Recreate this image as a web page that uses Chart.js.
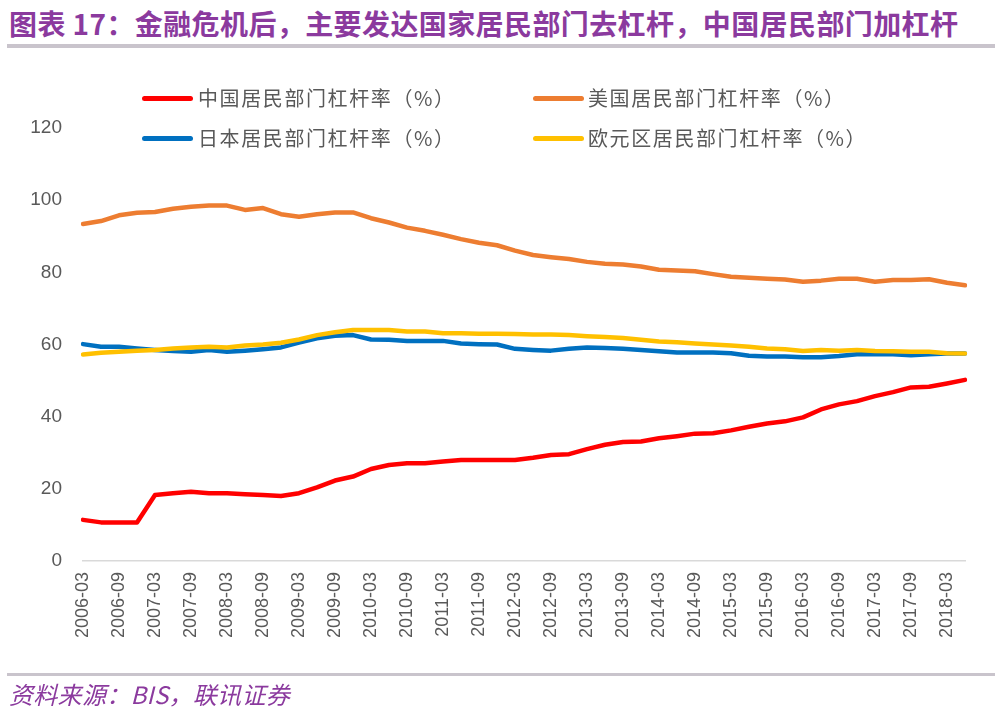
<!DOCTYPE html>
<html>
<head>
<meta charset="utf-8">
<script src="https://cdn.jsdelivr.net/npm/chart.js@4/dist/chart.umd.min.js"></script>
<style>
  html, body { margin: 0; padding: 0; background: #fff; }
  #wrap { position: relative; width: 1000px; height: 711px; overflow: hidden; background: #fff; }
  #c { position: absolute; left: 0; top: 0; }
  .title { position: absolute; left: 9px; top: 8px; font: bold 28px "Noto Sans CJK SC", "Liberation Sans", sans-serif; color: #8B3A9E; line-height: 30px; letter-spacing: 0.4px; white-space: nowrap; }
  .rule { position: absolute; left: 7px; width: 988px; background: #C9C4CC; }
  .source { position: absolute; left: 9px; top: 680px; font: italic 24px "Noto Sans CJK SC", "Liberation Sans", sans-serif; color: #8B3A9E; line-height: 28px; letter-spacing: 0.3px; white-space: nowrap; }
  .lg-line { position: absolute; height: 5px; border-radius: 3px; }
  .lg-text { position: absolute; font: 20px "Noto Sans CJK SC", sans-serif; color: #595959; letter-spacing: 1.6px; line-height: 24px; white-space: nowrap; }
</style>
</head>
<body>
<div id="wrap">
  <div class="title">图表 17：金融危机后，主要发达国家居民部门去杠杆，中国居民部门加杠杆</div>
  <div class="rule" style="top:44px;height:4px;"></div>
  <canvas id="c" width="1000" height="711"></canvas>
  <div id="legend"></div>
  <div class="rule" style="top:673px;height:3px;"></div>
  <div class="source">资料来源：BIS，联讯证券</div>
</div>
<script>
const categories = [
  "2006-03","2006-06","2006-09","2006-12",
  "2007-03","2007-06","2007-09","2007-12",
  "2008-03","2008-06","2008-09","2008-12",
  "2009-03","2009-06","2009-09","2009-12",
  "2010-03","2010-06","2010-09","2010-12",
  "2011-03","2011-06","2011-09","2011-12",
  "2012-03","2012-06","2012-09","2012-12",
  "2013-03","2013-06","2013-09","2013-12",
  "2014-03","2014-06","2014-09","2014-12",
  "2015-03","2015-06","2015-09","2015-12",
  "2016-03","2016-06","2016-09","2016-12",
  "2017-03","2017-06","2017-09","2017-12",
  "2018-03","2018-06"
];
const china = [
  11.4,10.7,10.7,10.7, 18.3,18.8,19.2,18.8, 18.8,18.5,18.3,18.0, 18.8,20.4,22.3,23.4,
  25.5,26.6,27.1,27.1, 27.6,28.0,28.0,28.0, 28.0,28.6,29.4,29.6, 31.0,32.2,33.0,33.1,
  34.0,34.6,35.3,35.4, 36.2,37.2,38.1,38.7, 39.8,42.0,43.4,44.3, 45.7,46.8,48.1,48.3,
  49.2,50.2
];
const usa = [
  93.4,94.2,95.8,96.5, 96.7,97.6,98.2,98.5, 98.5,97.3,97.8,96.1, 95.4,96.1,96.6,96.6,
  95.0,93.8,92.4,91.5, 90.4,89.2,88.2,87.5, 86.0,84.8,84.2,83.7, 82.9,82.4,82.2,81.6,
  80.7,80.5,80.3,79.5, 78.8,78.5,78.2,78.0, 77.4,77.7,78.2,78.2, 77.4,77.9,77.9,78.1,
  77.1,76.4
];
const japan = [
  60.1,59.4,59.4,58.9, 58.5,58.2,58.0,58.5, 58.0,58.3,58.7,59.2, 60.5,61.7,62.4,62.6,
  61.4,61.3,61.0,61.0, 61.0,60.3,60.1,60.0, 58.8,58.5,58.3,58.8, 59.2,59.0,58.8,58.5,
  58.1,57.8,57.8,57.8, 57.6,56.9,56.7,56.7, 56.5,56.5,56.8,57.3, 57.3,57.3,57.0,57.3,
  57.5,57.5
];
const euro = [
  57.2,57.7,58.0,58.3, 58.5,58.9,59.2,59.4, 59.2,59.7,60.0,60.5, 61.4,62.6,63.4,64.0,
  64.0,64.0,63.6,63.6, 63.1,63.1,63.0,63.0, 62.9,62.8,62.8,62.6, 62.3,62.1,61.8,61.3,
  60.8,60.6,60.3,60.0, 59.7,59.4,58.9,58.7, 58.2,58.5,58.3,58.5, 58.2,58.1,58.0,58.0,
  57.6,57.5
];
const yTicks = [0, 20, 40, 60, 80, 100, 120];
const seriesNames = ["中国居民部门杠杆率（%）", "美国居民部门杠杆率（%）", "日本居民部门杠杆率（%）", "欧元区居民部门杠杆率（%）"];
const seriesColors = ["#FF0000", "#ED7D31", "#0070C0", "#FFC000"];
const seriesData = [china, usa, japan, euro];

// HTML legend (2 columns x 2 rows)
const legendPos = [
  {lx: 142, tx: 198, y: 98},
  {lx: 533, tx: 588, y: 98},
  {lx: 142, tx: 198, y: 138},
  {lx: 533, tx: 588, y: 138}
];
const legend = document.getElementById('legend');
seriesNames.forEach((name, i) => {
  const p = legendPos[i];
  const ln = document.createElement('div');
  ln.className = 'lg-line';
  ln.style.left = p.lx + 'px';
  ln.style.width = '51px';
  ln.style.top = (p.y - 2.5) + 'px';
  ln.style.background = seriesColors[i];
  legend.appendChild(ln);
  const tx = document.createElement('div');
  tx.className = 'lg-text';
  tx.style.left = p.tx + 'px';
  tx.style.top = (p.y - 12) + 'px';
  tx.textContent = name;
  legend.appendChild(tx);
});

const datasets = seriesData.map((d, i) => ({
  label: seriesNames[i],
  data: d,
  borderColor: seriesColors[i],
  backgroundColor: seriesColors[i],
  borderWidth: 4.5,
  pointRadius: 0,
  pointHoverRadius: 0,
  tension: 0,
  fill: false,
  borderCapStyle: 'round',
  borderJoinStyle: 'round',
  order: seriesData.length - 1 - i
}));

new Chart(document.getElementById('c'), {
  type: 'line',
  data: { labels: categories, datasets: datasets },
  options: {
    responsive: false,
    animation: false,
    events: [],
    layout: { padding: { left: 0, right: 35, top: 128, bottom: 0 } },
    plugins: { legend: { display: false }, tooltip: { enabled: false }, title: { display: false } },
    scales: {
      x: {
        type: 'category',
        offset: false,
        grid: { display: false, drawTicks: false },
        border: { display: true, color: '#D9D9D9', width: 1.5 },
        ticks: {
          autoSkip: false,
          minRotation: 90,
          maxRotation: 90,
          padding: 11,
          color: '#595959',
          font: { family: 'Liberation Sans', size: 18 },
          callback: function(v, idx) { return idx % 2 === 0 ? categories[idx] : ''; }
        },
        afterFit: function(s) { s.height = 150; }
      },
      y: {
        min: 0,
        max: 120,
        grid: { display: false, drawTicks: false },
        border: { display: false },
        afterBuildTicks: function(s) { s.ticks = yTicks.map(v => ({ value: v })); },
        ticks: {
          padding: 21,
          color: '#595959',
          font: { family: 'Liberation Sans', size: 19 }
        },
        afterFit: function(s) { s.width = 83; }
      }
    }
  }
});
</script>
</body>
</html>
